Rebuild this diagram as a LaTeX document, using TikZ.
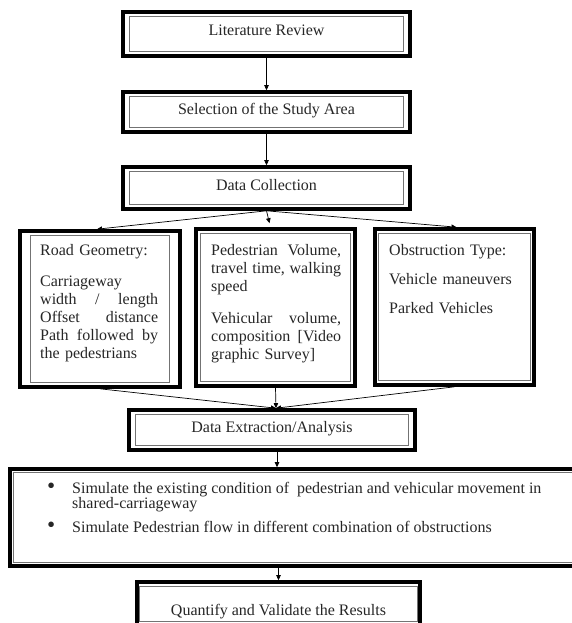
\documentclass[tikz,border=0pt]{standalone}
\usepackage{fontspec}
\setmainfont{Liberation Serif}
\usetikzlibrary{arrows.meta}
\definecolor{txt}{HTML}{262626}
\newcommand{\bigbul}{\raisebox{-0.5pt}{\scalebox{1.45}{\textbullet}}}
\begin{document}
\begin{tikzpicture}[x=1pt,y=-1pt,
  frame/.style={draw=black, line width=3.6pt, inner sep=0pt, outer sep=1.8pt, text=txt,
    font=\fontsize{16}{18}\selectfont, text height=11pt, text depth=7pt},
  innerline/.style={draw=black!55, line width=0.8pt},
  body/.style={anchor=base west, inner sep=0pt, align=left, text=txt,
    font=\fontsize{16}{18}\selectfont},
  arr/.style={-{Triangle[length=5pt,width=4.5pt]}, line width=0.7pt}]
\useasboundingbox (0,0) rectangle (571,623);

\node[frame, minimum width=287pt, minimum height=44pt] (lit) at (266.5,34) {Literature Review};
\node[frame, minimum width=287pt, minimum height=40pt] (sel) at (266.5,112) {Selection of the Study Area};
\node[frame, minimum width=287pt, minimum height=42pt] (dc) at (266.5,188) {Data Collection};
\node[frame, minimum width=160pt, minimum height=156pt] (geo) at (100,309) {};
\node[frame, minimum width=159pt, minimum height=157pt] (vol) at (275.5,307.5) {};
\node[frame, minimum width=159pt, minimum height=156pt] (obs) at (454.5,307) {};
\node[frame, minimum width=286pt, minimum height=40pt] (dea) at (272,430) {Data Extraction/Analysis};
\node[frame, minimum width=566pt, minimum height=97pt] (sim) at (293,517.5) {};
\node[frame, minimum width=283pt, minimum height=44pt, text height=22pt, text depth=0pt] (res) at (278.5,604) {Quantify and Validate the Results};

\foreach \n/\ix/\iy in {lit/8/6, sel/8/6, dc/8/6, geo/12/6, vol/6/6, obs/5/6, dea/8/6, sim/5/5, res/4/6}
  \draw[innerline] ([shift={(\ix pt,-\iy pt)}]\n.north west) rectangle ([shift={(-\ix pt,\iy pt)}]\n.south east);

\node[body, text width=118pt] (geot) at (40,255)
  {Road Geometry:\\[13pt]Carriageway\\width\hfill/\hfill length\\Offset\hfill distance\\Path\hfill followed\hfill by\\the pedestrians};
\node[body, text width=130pt] (volt) at (211,255)
  {Pedestrian\hfill Volume,\\travel\hfill time,\hfill walking\\speed\\[14pt]Vehicular\hfill volume,\\composition\hfill [Video\\graphic Survey]};
\node[body, text width=140pt] (obst) at (389,255)
  {Obstruction Type:\\[11pt]Vehicle maneuvers\\[11pt]Parked Vehicles};

\node[anchor=base west, inner sep=0pt, text=txt, font=\fontsize{16}{15.5}\selectfont] (simt) at (47,493)
  {\begin{tabular}[t]{@{}p{25pt}@{}l@{}}\bigbul & Simulate the existing condition of\ \ pedestrian and vehicular movement in\\
   & shared-carriageway\\[7.5pt]
   \bigbul & Simulate Pedestrian flow in different combination of obstructions\end{tabular}};

\draw[arr] (lit.south) -- (sel.north);
\draw[arr] (sel.south) -- (dc.north);
\draw[arr] (dc.south) -- ([xshift=-3pt]geo.north);
\draw[arr] (dc.south) -- ([xshift=-6pt,yshift=4pt]vol.north);
\draw[arr] (dc.south) -- ([xshift=2pt]obs.north);
\coordinate (join) at ([xshift=4pt]dea.north);
\draw[arr] (geo.south) -- (join);
\draw[arr] (vol.south) -- (join);
\draw[arr] (obs.south) -- (join);
\draw[arr] ([xshift=5pt]dea.south) -- ([xshift=5pt]dea.south |- sim.north);
\draw[arr] (sim.south -| res.north) -- (res.north);
\end{tikzpicture}
\end{document}
